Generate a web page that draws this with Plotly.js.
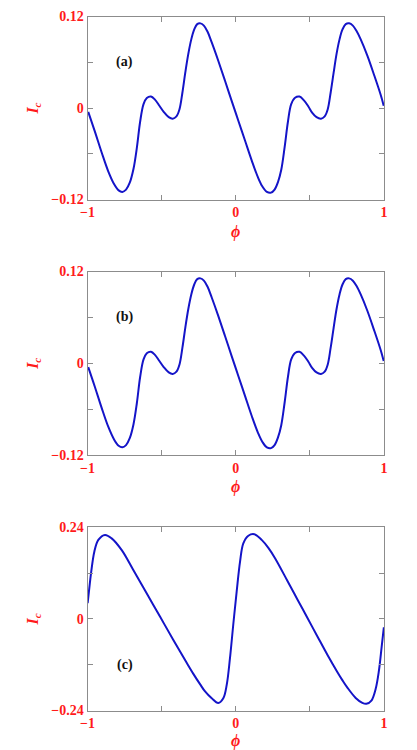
<!DOCTYPE html>
<html>
<head>
<meta charset="utf-8">
<script src="https://cdn.plot.ly/plotly-3.0.1.min.js"></script>
<style>html,body{margin:0;padding:0;background:#fff;}#chart{width:417px;height:750px;}</style>
</head>
<body>
<div id="chart"></div>
<script>
// ---- data ----
const phiA = [-0.995,-0.95,-0.905,-0.86,-0.82,-0.79,-0.765,-0.74,-0.715,-0.69,-0.667,-0.645,-0.622,-0.6,-0.572,-0.545,-0.515,-0.486,-0.452,-0.425,-0.4,-0.38,-0.36,-0.34,-0.32,-0.3,-0.28,-0.26,-0.238,-0.215,-0.19,-0.162,-0.118,-0.073,-0.027,0.018,0.063,0.108,0.15,0.18,0.21,0.238,0.262,0.285,0.307,0.33,0.352,0.374,0.4,0.43,0.46,0.49,0.515,0.545,0.575,0.6,0.62,0.64,0.66,0.68,0.7,0.72,0.742,0.765,0.79,0.815,0.843,0.887,0.932,0.978,0.998];
const icA = [-0.005,-0.031,-0.058,-0.083,-0.1,-0.108,-0.11,-0.107,-0.098,-0.08,-0.052,-0.018,0.005,0.013,0.015,0.011,0.003,-0.005,-0.012,-0.014,-0.011,-0.002,0.02,0.047,0.071,0.09,0.103,0.11,0.111,0.108,0.1,0.086,0.062,0.036,0.009,-0.017,-0.043,-0.069,-0.091,-0.103,-0.11,-0.111,-0.107,-0.097,-0.081,-0.051,-0.018,0.005,0.0135,0.015,0.01,0.002,-0.006,-0.012,-0.014,-0.011,-0.002,0.02,0.046,0.071,0.09,0.103,0.11,0.111,0.108,0.101,0.09,0.069,0.044,0.017,0.003];

const phiB = [-0.995,-0.95,-0.905,-0.86,-0.82,-0.79,-0.765,-0.74,-0.715,-0.69,-0.667,-0.645,-0.622,-0.6,-0.572,-0.545,-0.515,-0.486,-0.452,-0.425,-0.4,-0.38,-0.36,-0.34,-0.32,-0.3,-0.28,-0.26,-0.238,-0.215,-0.19,-0.162,-0.118,-0.073,-0.027,0.018,0.063,0.108,0.15,0.18,0.21,0.238,0.262,0.285,0.307,0.33,0.352,0.374,0.4,0.43,0.46,0.49,0.515,0.545,0.575,0.6,0.62,0.64,0.66,0.68,0.7,0.72,0.742,0.765,0.79,0.815,0.843,0.887,0.932,0.978,0.998];
const icB = [-0.005,-0.031,-0.058,-0.083,-0.1,-0.108,-0.11,-0.107,-0.098,-0.08,-0.052,-0.018,0.005,0.013,0.015,0.011,0.003,-0.005,-0.012,-0.014,-0.011,-0.002,0.02,0.047,0.071,0.09,0.103,0.11,0.111,0.108,0.1,0.086,0.062,0.036,0.009,-0.017,-0.043,-0.069,-0.091,-0.103,-0.11,-0.111,-0.107,-0.097,-0.081,-0.051,-0.018,0.005,0.0135,0.015,0.01,0.002,-0.006,-0.012,-0.014,-0.011,-0.002,0.02,0.046,0.071,0.09,0.103,0.11,0.111,0.108,0.101,0.09,0.069,0.044,0.017,0.003];

const phiC = [-0.999,-0.983,-0.976,-0.954,-0.927,-0.882,-0.837,-0.769,-0.691,-0.601,-0.511,-0.421,-0.331,-0.286,-0.241,-0.207,-0.162,-0.118,-0.084,-0.061,-0.039,-0.017,0.006,0.029,0.051,0.085,0.125,0.175,0.22,0.265,0.348,0.416,0.483,0.551,0.618,0.685,0.72,0.753,0.809,0.854,0.881,0.915,0.944,0.966,0.984,0.999];
const icC = [0.041,0.0975,0.12,0.176,0.207,0.22,0.211,0.18,0.128,0.067,0.006,-0.055,-0.115,-0.144,-0.171,-0.19,-0.208,-0.2205,-0.208,-0.173,-0.103,-0.016,0.071,0.15,0.198,0.218,0.222,0.207,0.186,0.159,0.1,0.051,0.003,-0.046,-0.094,-0.139,-0.161,-0.18,-0.207,-0.22,-0.2225,-0.214,-0.183,-0.135,-0.074,-0.022];

const xTickVals = [-1,0,1];
const xTickText = ['\u22121','0','1'];
const xMinorVals = [-0.5,0.5];
const yTickValsAB = [-0.12,0,0.12];
const yTickTextAB = ['\u22120.12','0','0.12'];
const yMinorAB = [-0.06,0.06];
const yTickValsC = [-0.24,0,0.24];
const yTickTextC = ['\u22120.24','0','0.24'];
const yMinorC = [-0.12,0.12];
const panelLabels = ['(a)','(b)','(c)'];
const xTitle = '<i>\u03d5</i>';
const yTitle = '<i>I<sub>c</sub></i>';

// ---- styling ----
const lineColor = '#1414c8';
const red = '#ff1a1a';
const frame = '#8c8c8c';
const serif = 'Liberation Serif';
const xDom = [87.5/417, 384/417];
const yDoms = [
  [1-199.5/750, 1-16.5/750],
  [1-455/750, 1-271.5/750],
  [1-710.5/750, 1-527.3/750]
];

function minorTicks(vals){
  return {tickmode:'array', tickvals:vals, ticks:'inside', ticklen:5, tickcolor:frame, tickwidth:1, showgrid:false};
}
function common(){
  return {
    showgrid:false, zeroline:false,
    showline:true, linecolor:frame, linewidth:1, mirror:'ticks',
    ticks:'inside', ticklen:5, tickcolor:frame, tickwidth:1,
    tickmode:'array',
    tickfont:{family:serif, size:14, color:red, weight:'bold'},
    fixedrange:true
  };
}
function xax(anchor){
  return Object.assign(common(), {
    domain: xDom, range: [-1,1], anchor: anchor,
    tickvals:xTickVals, ticktext:xTickText, minor: minorTicks(xMinorVals),
    title:{text:xTitle, font:{family:serif, size:16, color:red, weight:'bold'}, standoff:6}
  });
}
function yax(dom, rng, tv, tt, mv, anchor){
  return Object.assign(common(), {
    domain: dom, range: rng, anchor: anchor,
    tickvals:tv, ticktext:tt, minor: minorTicks(mv),
    title:{text:yTitle, font:{family:serif, size:16, color:red, weight:'bold'}, standoff:8}
  });
}

const traces = [
  {x:phiA, y:icA, xaxis:'x', yaxis:'y'},
  {x:phiB, y:icB, xaxis:'x2', yaxis:'y2'},
  {x:phiC, y:icC, xaxis:'x3', yaxis:'y3'}
].map(t => Object.assign(t, {type:'scatter', mode:'lines', line:{color:lineColor, width:2, shape:'spline', smoothing:1}, hoverinfo:'skip', showlegend:false}));

const labelPos = [[-0.75,0.06],[-0.75,0.06],[-0.75,-0.12]];
const axIds = ['', '2', '3'];
const annotations = panelLabels.map((lab,i) => ({
  xref:'x'+axIds[i], yref:'y'+axIds[i], x:labelPos[i][0], y:labelPos[i][1], text:lab,
  showarrow:false, xanchor:'center', yanchor:'middle',
  font:{family:serif, size:14, color:'#111', weight:'bold'}
}));

const layout = {
  width:417, height:750,
  margin:{l:0, r:0, t:0, b:0},
  paper_bgcolor:'#fff', plot_bgcolor:'#fff',
  xaxis: xax('y'),
  xaxis2: xax('y2'),
  xaxis3: xax('y3'),
  yaxis: yax(yDoms[0], [-0.12,0.12], yTickValsAB, yTickTextAB, yMinorAB, 'x'),
  yaxis2: yax(yDoms[1], [-0.12,0.12], yTickValsAB, yTickTextAB, yMinorAB, 'x2'),
  yaxis3: yax(yDoms[2], [-0.24,0.24], yTickValsC, yTickTextC, yMinorC, 'x3'),
  annotations: annotations
};

Plotly.newPlot('chart', traces, layout, {staticPlot:true, displayModeBar:false});
</script>
</body>
</html>
